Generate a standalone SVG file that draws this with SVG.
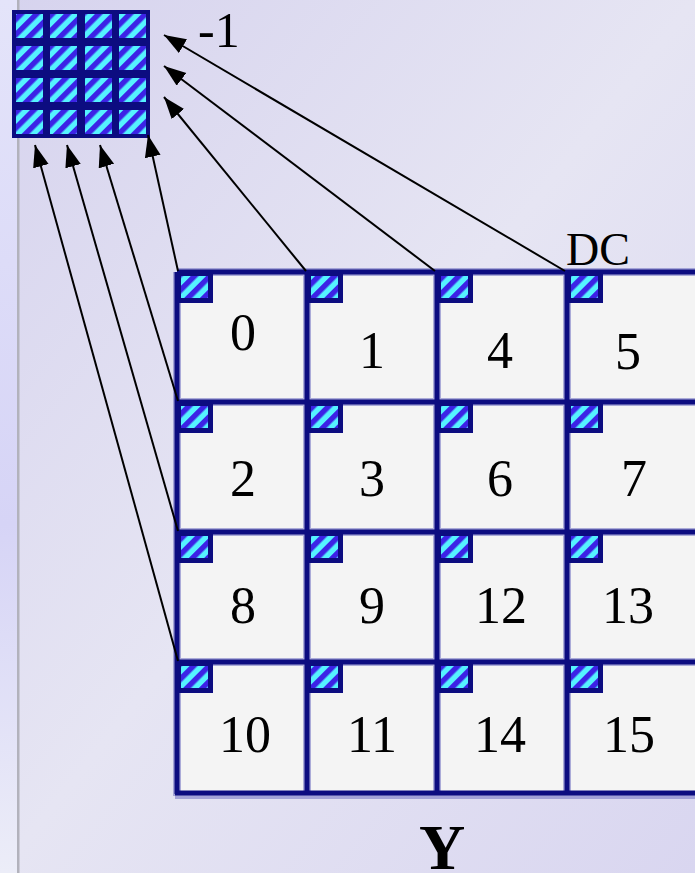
<svg xmlns="http://www.w3.org/2000/svg" width="695" height="873" viewBox="0 0 695 873">
<style>
.num{font-family:"Liberation Serif","Times New Roman",serif;font-size:52px;fill:#000;text-anchor:middle}
.lbl{font-family:"Liberation Serif","Times New Roman",serif;fill:#000}
.cellbg{fill:#f4f4f4}
.gl{stroke:#0c0c80;stroke-width:5;fill:none}
.glh{stroke:#7a7ac4;stroke-width:8;fill:none;opacity:0.6}
.nv{fill:#0c0c80}
.hat{fill:url(#stripes)}
.conn{stroke:#000;stroke-width:2;fill:none;marker-end:url(#ah)}
</style>
<defs>
<linearGradient id="bg" x1="0" y1="0" x2="1" y2="1">
<stop offset="0" stop-color="#d6d3ee"/>
<stop offset="0.5" stop-color="#e6e5f3"/>
<stop offset="1" stop-color="#d9d6f0"/>
</linearGradient>
<linearGradient id="strip" x1="0" y1="0" x2="0" y2="1">
<stop offset="0" stop-color="#e4e4fa"/>
<stop offset="0.6" stop-color="#d6d4f6"/>
<stop offset="1" stop-color="#ecedf8"/>
</linearGradient>
<pattern id="stripes" width="11" height="11" patternUnits="userSpaceOnUse" patternTransform="rotate(45)">
<rect width="11" height="11" fill="#55f2ff"/>
<rect width="5.5" height="11" fill="#3c22e6"/>
</pattern>
<marker id="ah" markerWidth="24" markerHeight="18" refX="22" refY="8" orient="auto" markerUnits="userSpaceOnUse" viewBox="0 0 24 18">
<path d="M0,0 L22,8 L0,16 z" fill="#000"/>
</marker>
</defs>
<rect width="695" height="873" fill="url(#bg)"/>
<rect x="0" y="0" width="18" height="873" fill="url(#strip)"/>
<rect x="17" y="0" width="2.5" height="873" fill="#b2b2bc"/>
<g id="small-grid">
<rect x="12" y="10" width="138" height="128" class="nv"/>
<rect x="16" y="14" width="27" height="24" class="hat"/>
<rect x="50" y="14" width="27" height="24" class="hat"/>
<rect x="85" y="14" width="27" height="24" class="hat"/>
<rect x="119" y="14" width="27" height="24" class="hat"/>
<rect x="16" y="46" width="27" height="24" class="hat"/>
<rect x="50" y="46" width="27" height="24" class="hat"/>
<rect x="85" y="46" width="27" height="24" class="hat"/>
<rect x="119" y="46" width="27" height="24" class="hat"/>
<rect x="16" y="78" width="27" height="24" class="hat"/>
<rect x="50" y="78" width="27" height="24" class="hat"/>
<rect x="85" y="78" width="27" height="24" class="hat"/>
<rect x="119" y="78" width="27" height="24" class="hat"/>
<rect x="16" y="110" width="27" height="24" class="hat"/>
<rect x="50" y="110" width="27" height="24" class="hat"/>
<rect x="85" y="110" width="27" height="24" class="hat"/>
<rect x="119" y="110" width="27" height="24" class="hat"/>
</g>
<g id="big-grid">
<rect x="177" y="272" width="520" height="520" class="cellbg"/>
<path class="glh" d="M177,272 V796 M307,272 V792 M437,272 V792 M567,272 V792 M177,272 H697 M177,402 H697 M177,532 H697 M177,662 H697 M175,795 H697"/>
<path class="gl" d="M177,272 V794 M307,272 V792 M437,272 V792 M567,272 V792 M177,272 H697 M177,402 H697 M177,532 H697 M177,662 H697 M175,793 H697"/>
</g>
<g id="cells">
<g id="cell-0"><rect x="177" y="272" width="36" height="31" class="nv"/><rect x="181" y="276" width="27" height="22" class="hat"/><text class="num" x="243" y="350">0</text></g>
<g id="cell-1"><rect x="307" y="272" width="36" height="31" class="nv"/><rect x="311" y="276" width="27" height="22" class="hat"/><text class="num" x="372" y="368">1</text></g>
<g id="cell-4"><rect x="437" y="272" width="36" height="31" class="nv"/><rect x="441" y="276" width="27" height="22" class="hat"/><text class="num" x="500" y="368">4</text></g>
<g id="cell-5"><rect x="567" y="272" width="36" height="31" class="nv"/><rect x="571" y="276" width="27" height="22" class="hat"/><text class="num" x="628" y="369">5</text></g>
<g id="cell-2"><rect x="177" y="402" width="36" height="31" class="nv"/><rect x="181" y="406" width="27" height="22" class="hat"/><text class="num" x="243" y="496">2</text></g>
<g id="cell-3"><rect x="307" y="402" width="36" height="31" class="nv"/><rect x="311" y="406" width="27" height="22" class="hat"/><text class="num" x="372" y="496">3</text></g>
<g id="cell-6"><rect x="437" y="402" width="36" height="31" class="nv"/><rect x="441" y="406" width="27" height="22" class="hat"/><text class="num" x="500" y="496">6</text></g>
<g id="cell-7"><rect x="567" y="402" width="36" height="31" class="nv"/><rect x="571" y="406" width="27" height="22" class="hat"/><text class="num" x="634" y="496">7</text></g>
<g id="cell-8"><rect x="177" y="532" width="36" height="31" class="nv"/><rect x="181" y="536" width="27" height="22" class="hat"/><text class="num" x="243" y="623">8</text></g>
<g id="cell-9"><rect x="307" y="532" width="36" height="31" class="nv"/><rect x="311" y="536" width="27" height="22" class="hat"/><text class="num" x="372" y="623">9</text></g>
<g id="cell-12"><rect x="437" y="532" width="36" height="31" class="nv"/><rect x="441" y="536" width="27" height="22" class="hat"/><text class="num" x="501" y="623">12</text></g>
<g id="cell-13"><rect x="567" y="532" width="36" height="31" class="nv"/><rect x="571" y="536" width="27" height="22" class="hat"/><text class="num" x="628" y="623">13</text></g>
<g id="cell-10"><rect x="177" y="662" width="36" height="31" class="nv"/><rect x="181" y="666" width="27" height="22" class="hat"/><text class="num" x="245" y="752">10</text></g>
<g id="cell-11"><rect x="307" y="662" width="36" height="31" class="nv"/><rect x="311" y="666" width="27" height="22" class="hat"/><text class="num" x="372" y="752">11</text></g>
<g id="cell-14"><rect x="437" y="662" width="36" height="31" class="nv"/><rect x="441" y="666" width="27" height="22" class="hat"/><text class="num" x="500" y="752">14</text></g>
<g id="cell-15"><rect x="567" y="662" width="36" height="31" class="nv"/><rect x="571" y="666" width="27" height="22" class="hat"/><text class="num" x="629" y="752">15</text></g>
</g>
<g id="connectors">
<line class="conn" x1="565" y1="271" x2="164" y2="35"/>
<line class="conn" x1="435" y1="271" x2="164" y2="66"/>
<line class="conn" x1="306" y1="271" x2="164" y2="97"/>
<line class="conn" x1="178" y1="271" x2="148" y2="135"/>
<line class="conn" x1="178" y1="401" x2="100" y2="145"/>
<line class="conn" x1="178" y1="531" x2="67" y2="145"/>
<line class="conn" x1="178" y1="661" x2="35" y2="145"/>
</g>
<g id="labels">
<text class="lbl" x="198" y="47" font-size="50">-1</text>
<text class="lbl" x="566" y="265" font-size="46">DC</text>
<text class="lbl" x="442" y="869" font-size="64" font-weight="bold" text-anchor="middle">Y</text>
</g>
</svg>
